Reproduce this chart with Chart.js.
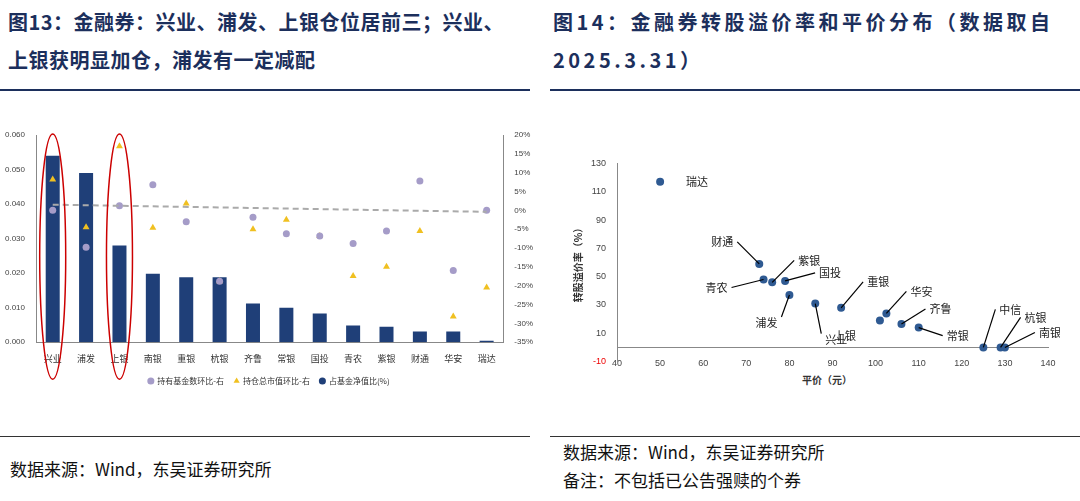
<!DOCTYPE html><html><head><meta charset="utf-8">
<script src="https://cdn.jsdelivr.net/npm/chart.js@4"></script>
<style>
body{margin:0;width:1080px;height:501px;background:#fff;position:relative;font-family:"Noto Sans CJK SC";overflow:hidden}
.t{position:absolute;color:#1c2f5c;font-weight:bold;font-size:20px;line-height:38px;font-family:"Noto Sans CJK SC";white-space:nowrap}
.hr{position:absolute;height:2px;background:#1c2f5c}
.hr2{position:absolute;height:1px;background:#333}
.f{position:absolute;font-size:17px;color:#111;line-height:28px;font-family:"Noto Sans CJK SC"}
canvas{position:absolute}
</style></head><body>
<div class="t" style="left:8px;top:3px;letter-spacing:0.5px">图13：金融券：兴业、浦发、上银仓位居前三；兴业、<br>上银获明显加仓，浦发有一定减配</div>
<div class="t" style="left:553px;top:3px;letter-spacing:3.5px">图14：金融券转股溢价率和平价分布（数据取自<br>2025.3.31）</div>
<div class="hr" style="left:0;top:89px;width:530px"></div>
<div class="hr" style="left:550px;top:89px;width:530px"></div>
<div class="hr2" style="left:0;top:436px;width:530px"></div>
<div class="hr2" style="left:550px;top:436px;width:530px"></div>
<div class="f" style="left:10px;top:455px">数据来源：Wind，东吴证券研究所</div>
<div class="f" style="left:563px;top:438px">数据来源：Wind，东吴证券研究所<br>备注：不包括已公告强赎的个券</div>
<div style="position:absolute;left:0;top:127px;width:540px;height:268px"><canvas id="c1"></canvas></div>
<div style="position:absolute;left:560px;top:155px;width:500px;height:215px"><canvas id="c2"></canvas></div>
<script>
const cats=['兴业','浦发','上银','南银','重银','杭银','齐鲁','常银','国投','青农','紫银','财通','华安','瑞达'];
const navRatio=[0.054,0.049,0.028,0.0198,0.0188,0.0188,0.0112,0.0100,0.0083,0.0048,0.0045,0.0031,0.0031,0.0004];
const fundCountChg=[0,-9.8,1.2,6.8,-3,-18.8,-1.8,-6.2,-6.8,-8.8,-5.5,7.8,-16,0];
const mvChg=[8.2,-4.5,17,-4.6,1.8,-18.8,-5,-2.5,-6.8,-17.4,-15,-5.5,-28.2,-20.5];
const trend=[1.5,null,null,null,null,null,null,null,null,null,null,null,null,-0.4];
const bonds=['瑞达','财通','青农','紫银','国投','浦发','兴业','重银','上银','华安','齐鲁','常银','中信','杭银','南银'];
const parity=[50,73,74,76,79,80,86,92,101,102.5,106,110,125,129,130];
const premium=[117,59,48,46,47,37,31,28,19,24,16.5,14,0,0,0];
const f='"Noto Sans CJK SC"';
Chart.defaults.animation=false;
const ell={id:'ell',afterDatasetsDraw(c){const x=c.scales.x,ctx=c.ctx;ctx.save();ctx.strokeStyle='#c00';ctx.lineWidth=1.5;
[0,2].forEach(i=>{ctx.beginPath();ctx.ellipse(x.getPixelForValue(i),c.chartArea.top+(c.chartArea.bottom+30-c.chartArea.top)/2+3,13,(c.chartArea.bottom+30-c.chartArea.top)/2+4,0,0,Math.PI*2);ctx.stroke();});ctx.restore();}};
new Chart(document.getElementById('c1'),{data:{labels:cats,datasets:[
{type:'bar',label:'占基金净值比(%)',data:navRatio,backgroundColor:'#1f3f78',barPercentage:0.42,categoryPercentage:1,order:2},
{type:'scatter',label:'持有基金数环比-右',data:fundCountChg,yAxisID:'y1',backgroundColor:'#a59cc8',pointRadius:3.5,pointBorderWidth:0,order:1},
{type:'scatter',label:'持仓总市值环比-右',data:mvChg,yAxisID:'y1',backgroundColor:'#f0c020',pointStyle:'triangle',pointRadius:4,pointBorderWidth:0,order:1},
{type:'line',data:trend,yAxisID:'y1',spanGaps:true,borderColor:'#aaa',borderDash:[6,4],borderWidth:2,pointRadius:0,order:0}]},
plugins:[ell],
options:{responsive:true,maintainAspectRatio:false,layout:{padding:{top:8,left:2,right:4}},
plugins:{legend:{position:'bottom',labels:{boxWidth:5,boxHeight:5,font:{size:8,family:f},color:'#333',filter:i=>i.text!==undefined,usePointStyle:true}}},
scales:{x:{grid:{display:false},border:{color:'#888'},ticks:{font:{size:9,family:f},color:'#333'}},
y:{min:0,max:0.06,ticks:{stepSize:0.01,callback:v=>v.toFixed(3),font:{size:8},color:'#444'},grid:{display:false},border:{color:'#888'}},
y1:{position:'right',min:-35,max:20,ticks:{stepSize:5,callback:v=>v+'%',font:{size:8},color:'#444'},grid:{display:false},border:{color:'#888'}}}}});
const offs={'瑞达':[22,0,0],'财通':[-22,-22,1],'青农':[-32,8,1],'紫银':[22,-22,1],'国投':[30,-8,1],'浦发':[-8,22,1],'兴业':[6,30,1],'重银':[22,-26,1],'上银':[-20,15,0],'华安':[20,-22,1],'齐鲁':[24,-15,1],'常银':[24,8,1],'中信':[12,-38,1],'杭银':[20,-30,1],'南银':[30,-15,1]};
const lab={id:'lab',afterDatasetsDraw(c){const m=c.getDatasetMeta(0),ctx=c.ctx;ctx.save();ctx.font='11px '+f;ctx.fillStyle='#222';ctx.strokeStyle='#000';ctx.lineWidth=1.2;
m.data.forEach((p,i)=>{const o=offs[bonds[i]];const tx=p.x+o[0],ty=p.y+o[1];if(o[2]){ctx.beginPath();ctx.moveTo(p.x,p.y);ctx.lineTo(tx,ty);ctx.stroke();}
ctx.textAlign=o[0]>=0?'left':'right';ctx.textBaseline='middle';ctx.fillText(bonds[i],tx+(o[0]>=0?4:-4),ty+(Math.abs(o[1])>20&&o[1]>0?6:0));});ctx.restore();}};
new Chart(document.getElementById('c2'),{type:'scatter',data:{datasets:[{data:parity.map((x,i)=>({x,y:premium[i]})),backgroundColor:'#2f5a92',pointRadius:4,pointBorderWidth:0}]},
plugins:[lab],
options:{responsive:true,maintainAspectRatio:false,layout:{padding:{right:12,top:5,left:8}},plugins:{legend:{display:false},tooltip:{enabled:false}},
scales:{x:{min:40,max:140,position:{y:0},ticks:{stepSize:10,font:{size:9},color:'#444'},grid:{display:false},border:{color:'#888'}},
y:{min:-10,max:130,ticks:{stepSize:20,font:{size:9},color:c=>c.tick.value<0?'#e00':'#444'},grid:{display:false},border:{color:'#888'},title:{display:true,text:'转股溢价率（%）',font:{size:10,weight:'bold',family:f},color:'#333'}}}}});
</script>
<div style="position:absolute;left:802px;top:372px;font-size:10px;font-weight:bold;color:#333">平价（元）</div>
</body></html>
